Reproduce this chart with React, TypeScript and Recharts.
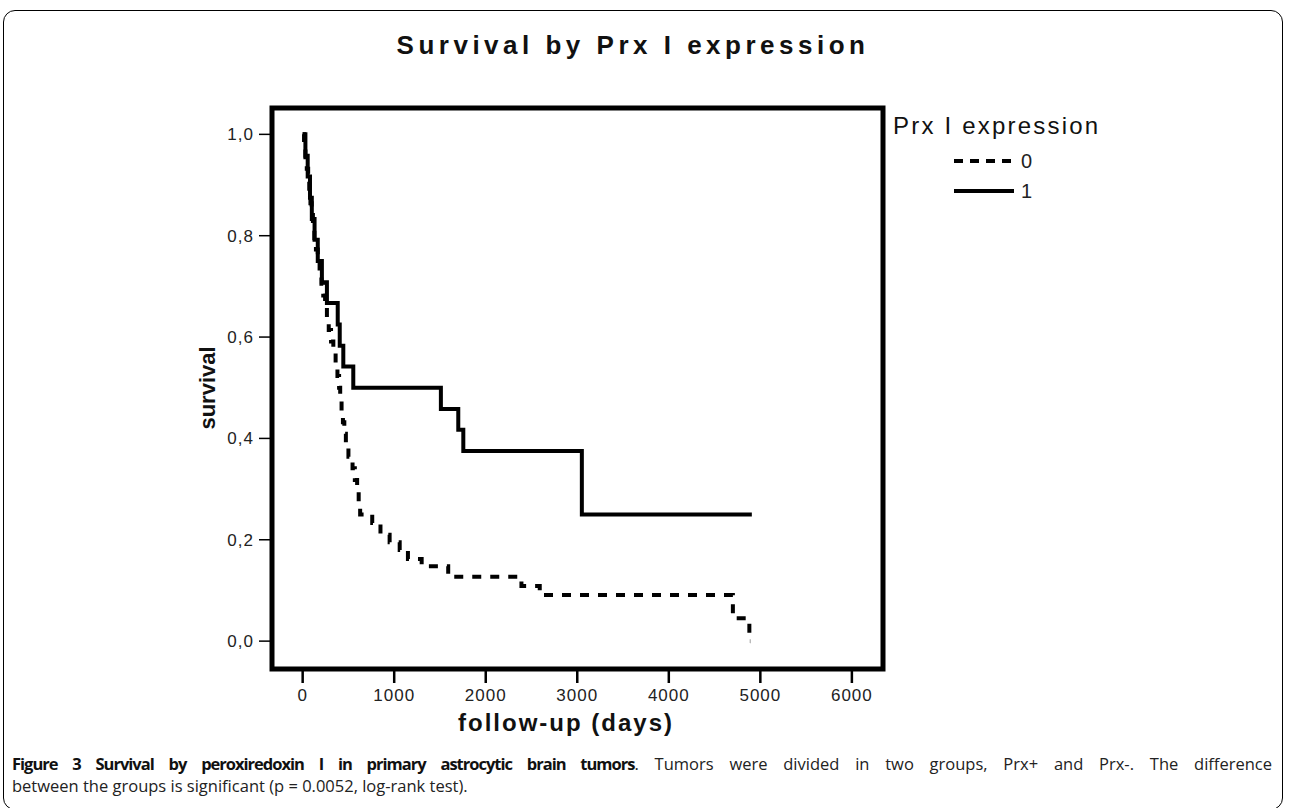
import { Legend, Line, LineChart, ReferenceArea, XAxis, YAxis } from 'recharts';

// Kaplan-Meier steps (days, survival)
const prxPosDays = [0, 30, 55, 80, 100, 130, 165, 210, 265, 383, 405, 444, 553, 1510, 1700, 1755, 3050, 4907];
const prxPosSurvival = [1, 0.958, 0.917, 0.875, 0.833, 0.792, 0.75, 0.708, 0.667, 0.625, 0.583, 0.542, 0.5, 0.458, 0.417, 0.375, 0.25, 0.25];

const prxNegDays = [
  0, 15, 30, 45, 60, 72, 85, 98, 112, 128, 145, 165, 185, 205, 225, 245, 265, 285, 310, 335, 360, 380, 398, 410,
  425, 440, 455, 472, 500, 545, 570, 595, 612, 628, 760, 850, 950, 1060, 1150, 1300, 1590, 2390, 2590, 4700, 4880, 4890,
];
const prxNegSurvival = [
  1, 0.977, 0.955, 0.932, 0.909, 0.886, 0.864, 0.841, 0.818, 0.795, 0.773, 0.75, 0.727, 0.705, 0.682, 0.659, 0.636,
  0.614, 0.591, 0.568, 0.545, 0.523, 0.5, 0.477, 0.455, 0.432, 0.409, 0.386, 0.364, 0.341, 0.318, 0.295, 0.273, 0.25,
  0.233, 0.21, 0.195, 0.18, 0.162, 0.148, 0.127, 0.109, 0.091, 0.045, 0, 0,
];

const xTicks = [0, 1000, 2000, 3000, 4000, 5000, 6000];
const yTicks = [0, 0.2, 0.4, 0.6, 0.8, 1.0];
const legendLabels = ['0', '1'];

const X_MIN = -335;
const X_MAX = 6340;
const Y_MIN = -0.055;
const Y_MAX = 1.052;

const FONT = '"Liberation Sans", Arial, sans-serif';

const toPoints = (days: number[], surv: number[]) => days.map((t, i) => ({ t, s: surv[i] }));

const prxNeg = toPoints(prxNegDays, prxNegSurvival);
const prxPos = toPoints(prxPosDays, prxPosSurvival);

function formatComma(value: number) {
  return value.toFixed(1).replace('.', ',');
}

function LegendBox() {
  return (
    <div style={{ fontFamily: FONT, color: '#111' }}>
      <div style={{ fontSize: 24, letterSpacing: 2.2, lineHeight: '28px', whiteSpace: 'nowrap' }}>Prx I expression</div>
      <svg width={200} height={60} style={{ display: 'block', marginTop: 1 }}>
        <line x1={61} x2={121} y1={20} y2={20} stroke="#000" strokeWidth={4} strokeDasharray="9 7" />
        <text x={128} y={27} fontSize={20} fill="#222" fontFamily={FONT}>
          {legendLabels[0]}
        </text>
        <line x1={61} x2={121} y1={50} y2={50} stroke="#000" strokeWidth={4} />
        <text x={128} y={57} fontSize={20} fill="#222" fontFamily={FONT}>
          {legendLabels[1]}
        </text>
      </svg>
    </div>
  );
}

export default function App() {
  return (
    <div
      style={{
        position: 'absolute',
        left: 0,
        top: 0,
        width: 1290,
        height: 808,
        background: '#fff',
        overflow: 'hidden',
      }}
    >
      <div
        style={{
          position: 'absolute',
          left: 3,
          top: 10,
          width: 1280,
          height: 800,
          border: '1.5px solid #000',
          borderRadius: 12,
          boxSizing: 'border-box',
        }}
      />
      <div
        style={{
          position: 'absolute',
          left: 633,
          top: 45,
          transform: 'translate(-50%, -50%)',
          fontFamily: FONT,
          fontWeight: 'bold',
          fontSize: 26,
          letterSpacing: 4.5,
          color: '#111',
          whiteSpace: 'nowrap',
        }}
      >
        Survival by Prx I expression
      </div>

      <div style={{ position: 'absolute', left: 0, top: 0 }}>
        <LineChart width={1290} height={808} margin={{ top: 108, right: 407, bottom: 99, left: 0 }}>
          <XAxis
            dataKey="t"
            type="number"
            domain={[X_MIN, X_MAX]}
            allowDataOverflow
            ticks={xTicks}
            axisLine={false}
            tickLine={{ stroke: '#000', strokeWidth: 2.5 }}
            tickSize={14}
            tickMargin={6}
            height={40}
            tick={{ fill: '#222', fontSize: 17, fontFamily: FONT, letterSpacing: 1 }}
          />
          <YAxis
            dataKey="s"
            type="number"
            domain={[Y_MIN, Y_MAX]}
            allowDataOverflow
            ticks={yTicks}
            tickFormatter={formatComma}
            axisLine={false}
            tickLine={{ stroke: '#000', strokeWidth: 1.5 }}
            tickSize={13}
            tickMargin={5}
            width={272}
            tick={{ fill: '#222', fontSize: 17, fontFamily: FONT, letterSpacing: 1 }}
          />
          <Line
            data={prxNeg}
            dataKey="s"
            type="stepAfter"
            stroke="#000"
            strokeWidth={4}
            strokeDasharray="9 9"
            dot={false}
            activeDot={false}
            isAnimationActive={false}
          />
          <Line
            data={prxPos}
            dataKey="s"
            type="stepAfter"
            stroke="#000"
            strokeWidth={4}
            dot={false}
            activeDot={false}
            isAnimationActive={false}
          />
          <ReferenceArea
            x1={X_MIN}
            x2={X_MAX}
            y1={Y_MIN}
            y2={Y_MAX}
            fill="none"
            fillOpacity={0}
            stroke="#000"
            strokeWidth={5}
            ifOverflow="visible"
          />
          <Legend
            layout="vertical"
            align="center"
            verticalAlign="middle"
            content={() => <LegendBox />}
            wrapperStyle={{ position: 'absolute', left: 893, top: 112, width: 260, height: 100 }}
          />
        </LineChart>
      </div>

      <div
        style={{
          position: 'absolute',
          left: 208,
          top: 388,
          transform: 'translate(-50%, -50%) rotate(-90deg)',
          fontFamily: FONT,
          fontWeight: 'bold',
          fontSize: 22,
          color: '#111',
          whiteSpace: 'nowrap',
        }}
      >
        survival
      </div>
      <div
        style={{
          position: 'absolute',
          left: 566,
          top: 723,
          transform: 'translate(-50%, -50%)',
          fontFamily: FONT,
          fontWeight: 'bold',
          fontSize: 24,
          letterSpacing: 2,
          color: '#111',
          whiteSpace: 'nowrap',
        }}
      >
        follow-up (days)
      </div>

      <div
        style={{
          position: 'absolute',
          left: 12,
          top: 753,
          width: 1260,
          fontFamily: '"Open Sans", sans-serif',
          fontSize: 16.5,
          lineHeight: '22px',
          color: '#222',
        }}
      >
        <div style={{ textAlign: 'justify', textAlignLast: 'justify', whiteSpace: 'nowrap' }}>
          <span style={{ fontWeight: 'bold', color: '#111', letterSpacing: -1 }}>
            Figure 3 Survival by peroxiredoxin I in primary astrocytic brain tumors
          </span>
          . Tumors were divided in two groups, Prx+ and Prx-. The difference
        </div>
        <div>between the groups is significant (p = 0.0052, log-rank test).</div>
      </div>
    </div>
  );
}
